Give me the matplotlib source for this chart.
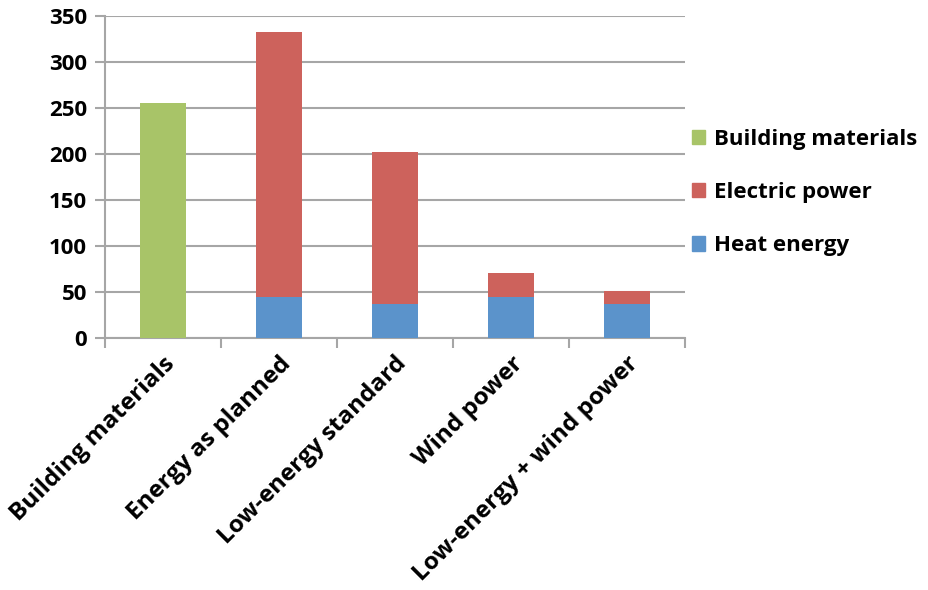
import numpy as np
import matplotlib.pyplot as plt
from matplotlib.patches import Patch

# Data
categories = ["Building materials", "Energy as planned", "Low-energy standard",
              "Wind power", "Low-energy + wind power"]
building = [255, 0, 0, 0, 0]
heat = [0, 45, 37, 45, 37]
electric = [0, 287, 165, 26, 14]

green = "#A8C468"
red = "#CD625C"
blue = "#5B93CB"
grid_c = "#a6a6a6"

plt.rcParams['font.family'] = ['Open Sans', 'DejaVu Sans']

fig = plt.figure(figsize=(9.29, 5.90), dpi=100)
ax = fig.add_axes([0.113, 0.427, 0.624, 0.546])

x = np.arange(len(categories))
w = 0.4
ax.bar(x, building, w, color=green, zorder=3)
ax.bar(x, heat, w, color=blue, zorder=3)
ax.bar(x, electric, w, bottom=heat, color=red, zorder=3)

ax.set_xlim(-0.5, len(categories) - 0.5)
ax.set_ylim(0, 350)
ax.set_yticks(range(0, 351, 50))
ax.yaxis.grid(True, color=grid_c, linewidth=1.5, zorder=0)
ax.set_axisbelow(True)

# category ticks sit on the boundaries, labels in the middle
ax.set_xticks(np.arange(-0.5, len(categories)), minor=False)
ax.set_xticklabels([])
ax.set_xticks(x, minor=True)
ax.set_xticklabels(categories, minor=True, rotation=45, ha='right', va='top',
                   rotation_mode='anchor', fontsize=17.5, fontweight='bold')
ax.tick_params(axis='x', which='minor', length=0, pad=10)
ax.tick_params(axis='x', which='major', length=7, width=1.5, color=grid_c)
ax.tick_params(axis='y', length=7, width=1.5, color=grid_c, labelsize=16, pad=6)
for lab in ax.get_yticklabels():
    lab.set_fontweight('bold')

for s in ['top', 'right']:
    ax.spines[s].set_visible(False)
for s in ['left', 'bottom']:
    ax.spines[s].set_color(grid_c)
    ax.spines[s].set_linewidth(1.5)

handles = [Patch(color=green, label="Building materials"),
           Patch(color=red, label="Electric power"),
           Patch(color=blue, label="Heat energy")]
fig.legend(handles=handles, loc='upper left', bbox_to_anchor=(0.728, 0.808),
           frameon=False, prop={'size': 16, 'weight': 'bold'},
           handlelength=0.6, handleheight=0.6, handletextpad=0.4,
           labelspacing=1.45, borderpad=0.2)

fig.savefig("out.png", dpi=100)
